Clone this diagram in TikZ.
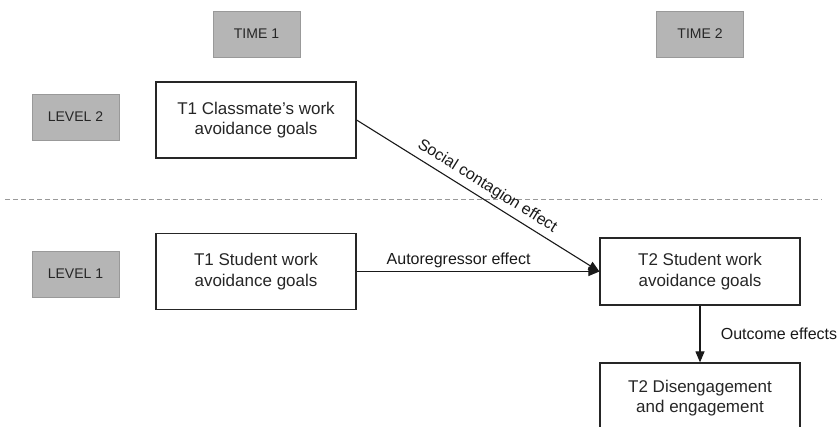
\documentclass[tikz,border=0pt]{standalone}
\usepackage{fontspec}
\setmainfont{Liberation Sans}
\usetikzlibrary{arrows.meta}
\begin{document}
\begin{tikzpicture}[x=1pt,y=-1pt,
  graybox/.style={draw=black!40,fill=black!29,line width=1pt,minimum width=87pt,minimum height=46pt,inner sep=0pt,font=\fontsize{14}{16}\selectfont,text=black!85},
  mainbox/.style={draw=black!85,line width=1.2pt,minimum width=200pt,minimum height=76pt,inner sep=0pt,align=center,font=\fontsize{17}{20.5}\selectfont,text=black!85},
  conn/.style={line width=1.1pt,draw=black!90,-{Triangle[length=11pt,width=9pt]}},
  elabel/.style={font=\fontsize{16}{18}\selectfont,text=black!90}]
\useasboundingbox (0,0) rectangle (840,426);
\node[graybox] (time1) at (256.5,34) {TIME 1};
\node[graybox] (time2) at (700,34) {TIME 2};
\node[graybox] (lev2) at (75.5,117) {LEVEL 2};
\node[graybox] (lev1) at (75.5,274) {LEVEL 1};
\node[mainbox] (cm) at (256,120) {T1 Classmate’s work\\avoidance goals};
\node[mainbox] (s1) at (256,271.5) {T1 Student work\\avoidance goals};
\node[mainbox,minimum height=67pt] (s2) at (700,271.5) {T2 Student work\\avoidance goals};
\node[mainbox,minimum height=70pt] (de) at (700,398) {T2 Disengagement\\and engagement};
\coordinate (dl) at (5,199);
\coordinate (dr) at (822,199);
\draw[black!40,line width=0.8pt,dash pattern=on 5pt off 3pt] (dl) -- (dr);
\draw[conn] (cm.east) -- (s2.west) node[elabel,pos=0.51,sloped,above,yshift=1.5pt] {Social contagion effect};
\draw[conn] (s1.east) -- (s2.west) node[elabel,pos=0.42,above,yshift=0pt] {Autoregressor effect};
\draw[conn] (s2.south) -- (de.north) node[elabel,midway,right,xshift=17pt] {Outcome effects};
\end{tikzpicture}
\end{document}
